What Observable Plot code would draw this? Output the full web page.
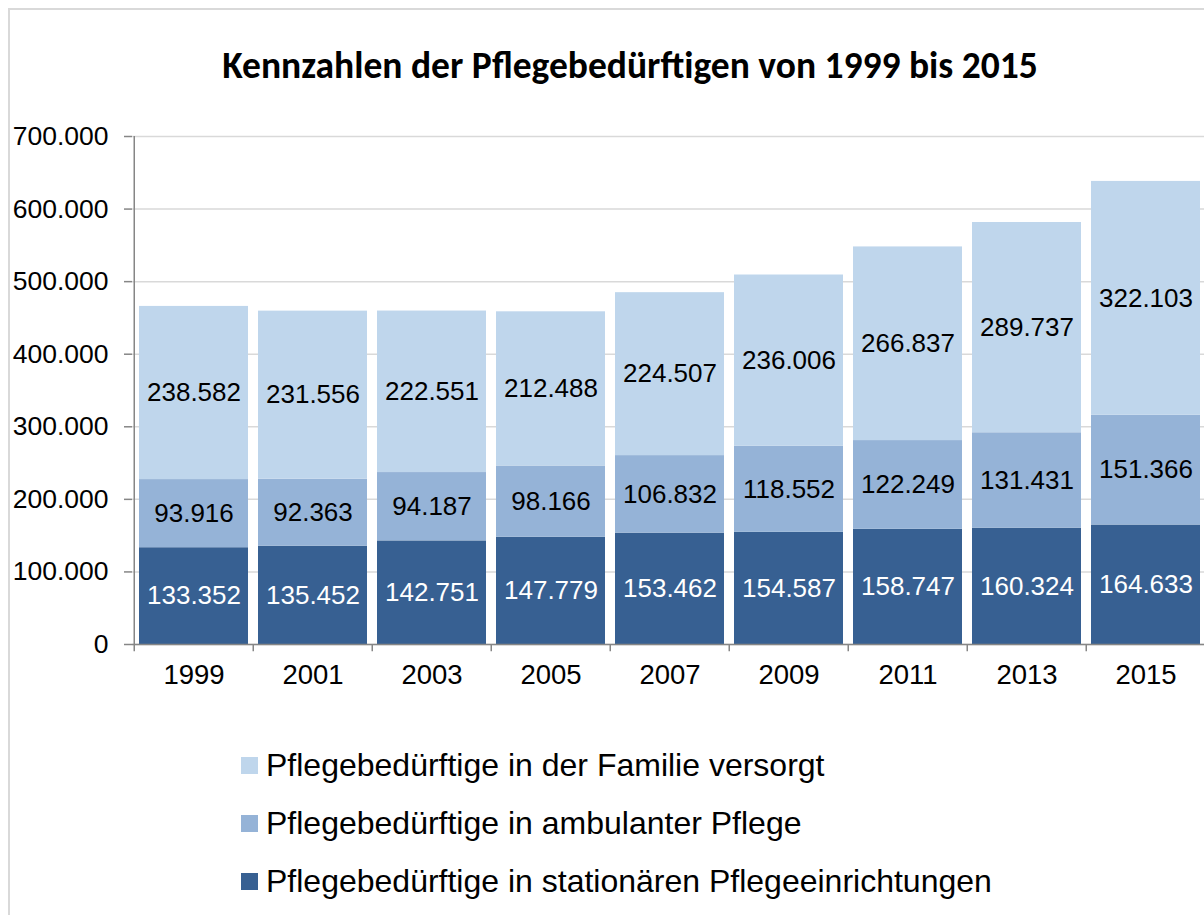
<!DOCTYPE html>
<html>
<head>
<meta charset="utf-8">
<script src="https://cdn.jsdelivr.net/npm/d3@7"></script>
<script src="https://cdn.jsdelivr.net/npm/@observablehq/plot@0.6"></script>
<style>
  html, body { margin: 0; padding: 0; background: #fff; overflow: hidden; width: 1204px; height: 915px; }
  #frame { position: absolute; left: 8px; top: 8px; width: 1260px; height: 960px; border: 2px solid #d9d9d9; box-sizing: border-box; }
  #title { position: absolute; left: 0; top: 42px; width: 1260px; text-align: center; font-family: Carlito, Lato, "Open Sans", sans-serif; font-weight: bold; font-size: 37.5px; color: #000; }
  #chart { position: absolute; left: 0; top: 0; }
  #chart svg { max-width: none; overflow: visible; }
  #legend { position: absolute; left: 241px; top: 736px; font-family: "Liberation Sans", Arial, sans-serif; font-size: 32px; color: #000; }
  .item { display: flex; align-items: center; height: 58px; }
  .sw { width: 17px; height: 17px; margin-right: 8px; flex: none; }
</style>
</head>
<body>
<div id="frame"></div>
<div id="chart"></div>
<div id="title">Kennzahlen der Pflegebedürftigen von 1999 bis 2015</div>
<div id="legend"></div>
<script>
const years = ["1999","2001","2003","2005","2007","2009","2011","2013","2015"];
const seriesNames = [
  "Pflegebedürftige in stationären Pflegeeinrichtungen",
  "Pflegebedürftige in ambulanter Pflege",
  "Pflegebedürftige in der Familie versorgt"
];
const stationaer = [133352,135452,142751,147779,153462,154587,158747,160324,164633];
const ambulant   = [93916,92363,94187,98166,106832,118552,122249,131431,151366];
const familie    = [238582,231556,222551,212488,224507,236006,266837,289737,322103];
const colors = ["#376092", "#95b3d7", "#bfd6ec"];
const yTicks = [0,100000,200000,300000,400000,500000,600000,700000];

const seriesValues = [stationaer, ambulant, familie];
const data = [];
seriesNames.forEach((s, si) => years.forEach((y, i) => data.push({year: y, series: s, value: seriesValues[si][i]})));

const fmt = d3.formatLocale({decimal: ",", thousands: ".", grouping: [3], currency: ["", "€"]}).format(",");

const left = 132, right = 1207.5;
const step = (right - left) / years.length;

const stackOpts = {x: "year", y: "value", z: "series", order: seriesNames};

const plot = Plot.plot({
  width: 1204,
  height: 704,
  marginLeft: 132,
  marginRight: 0,
  marginTop: 136,
  marginBottom: 60,
  style: {fontFamily: "'Liberation Sans', Arial, sans-serif", background: "transparent", overflow: "visible"},
  x: {domain: years, range: [left, right], paddingInner: 0.085, paddingOuter: 0.0425, label: null},
  y: {domain: [0, 700000], label: null},
  color: {domain: seriesNames, range: colors},
  marks: [
    Plot.gridY(yTicks, {stroke: "#d9d9d9", strokeOpacity: 1, strokeWidth: 1.5}),
    Plot.barY(data, Plot.stackY({...stackOpts, fill: "series"})),
    Plot.text(data, Plot.stackY({...stackOpts, text: d => d.series === seriesNames[0] ? fmt(d.value) : null, fill: "white", fontSize: 26})),
    Plot.text(data, Plot.stackY({...stackOpts, text: d => d.series !== seriesNames[0] ? fmt(d.value) : null, fill: "black", fontSize: 26})),
    Plot.ruleY([0], {stroke: "#868686", strokeWidth: 1.5}),
    Plot.ruleX([years[0]], {dx: -step / 2, stroke: "#868686", strokeWidth: 1.5}),
    Plot.ruleX(years, {x: d => d, y1: 0, y2: -10000, dx: -step / 2, stroke: "#868686", strokeWidth: 1.5}),
    Plot.axisY(yTicks, {tickSize: 8, tickPadding: 16, tickFormat: fmt, fontSize: 26.5, stroke: "#868686", fill: "black", strokeWidth: 1.5}),
    Plot.axisX({tickSize: 0, tickPadding: 20, fontSize: 27.5, fill: "black"})
  ]
});
document.getElementById("chart").appendChild(plot);

const legend = document.getElementById("legend");
[2, 1, 0].forEach(i => {
  const row = document.createElement("div");
  row.className = "item";
  const sw = document.createElement("div");
  sw.className = "sw";
  sw.style.background = colors[i];
  const t = document.createElement("span");
  t.textContent = seriesNames[i];
  row.appendChild(sw);
  row.appendChild(t);
  legend.appendChild(row);
});
</script>
</body>
</html>
